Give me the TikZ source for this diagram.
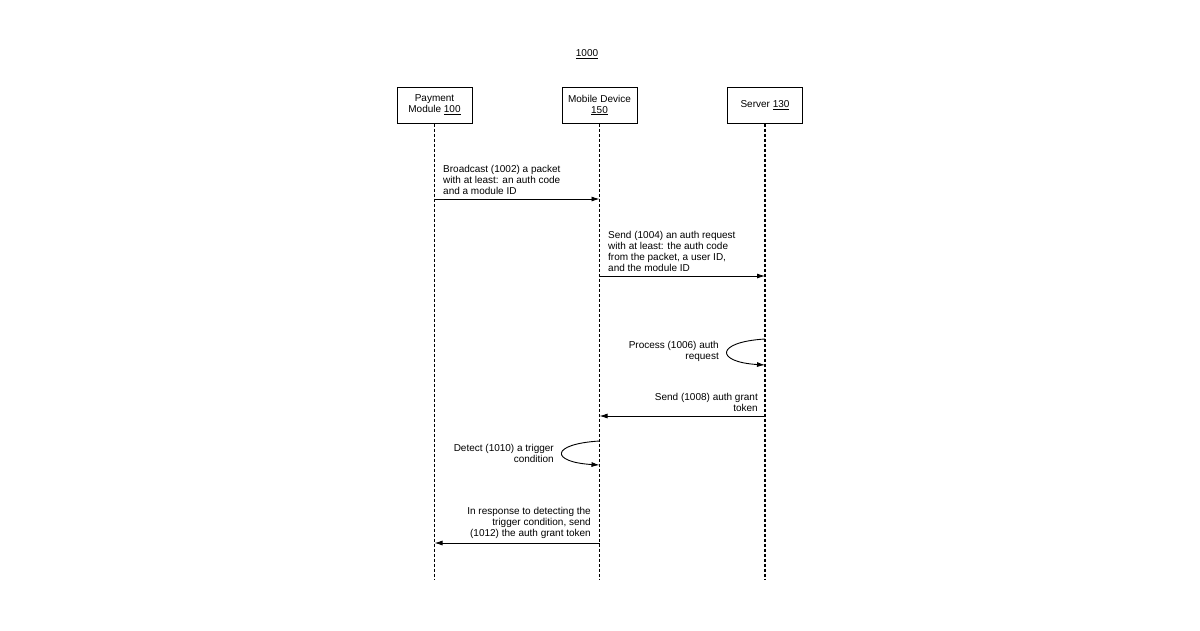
\documentclass[tikz,border=0pt]{standalone}
\usepackage{fontspec}
\setmainfont{Liberation Sans}
\usetikzlibrary{arrows.meta}
\begin{document}
\begin{tikzpicture}[x=1pt,y=-1pt,
  box/.style={draw,line width=1pt,minimum width=75pt,minimum height=36pt,align=center,font=\fontsize{10}{11}\selectfont,inner sep=1pt},
  life/.style={line width=1.3pt,dash pattern=on 3pt off 2pt},
  msg/.style={line width=0.9pt,-{Latex[length=8pt,width=5pt]}},
  lbl/.style={font=\fontsize{10}{11}\selectfont,inner sep=0pt}]
\useasboundingbox (0,0) rectangle (1200,630);
\node[lbl] (t) at (587,54) {\underline{1000}};
\node[box] (p) at (434.5,105) {Payment\\Module \underline{100}};
\node[box] (m) at (599.5,105) {Mobile Device\\\underline{150}};
\node[box] (s) at (765,105) {Server \underline{130}};
\coordinate (pe) at (434.5,580);
\coordinate (me) at (599.5,580);
\coordinate (se) at (765,580);
\draw[life] (p.south) -- (pe);
\draw[life] (m.south) -- (me);
\draw[life] (s.south) -- (se);
% 1002
\coordinate (a1) at (434.5,199); \coordinate (b1) at (599.5,199);
\draw[msg] (a1) -- (b1);
\node[lbl,align=left,anchor=south west] (l1) at (443,195) {Broadcast (1002) a packet\\with at least: an auth code\\and a module ID};
% 1004
\coordinate (a2) at (599.5,276); \coordinate (b2) at (765,276);
\draw[msg] (a2) -- (b2);
\node[lbl,align=left,anchor=south west] (l2) at (608,272) {Send (1004) an auth request\\with at least: the auth code\\from the packet, a user ID,\\and the module ID};
% 1006
\coordinate (a3) at (765,339); \coordinate (b3) at (765,365);
\draw[msg] (a3) .. controls (715,342) and (715,362) .. (b3);
\node[lbl,align=right,anchor=east] (l3) at (719,351) {Process (1006) auth\\request};
% 1008
\coordinate (a4) at (765,416); \coordinate (b4) at (599.5,416);
\draw[msg] (a4) -- (b4);
\node[lbl,align=right,anchor=south east] (l4) at (758,412) {Send (1008) auth grant\\token};
% 1010
\coordinate (a5) at (599.5,441); \coordinate (b5) at (599.5,465);
\draw[msg] (a5) .. controls (550,444) and (550,462) .. (b5);
\node[lbl,align=right,anchor=east] (l5) at (554,453) {Detect (1010) a trigger\\condition};
% 1012
\coordinate (a6) at (599.5,543); \coordinate (b6) at (434.5,543);
\draw[msg] (a6) -- (b6);
\node[lbl,align=right,anchor=south east] (l6) at (591,539) {In response to detecting the\\trigger condition, send\\(1012) the auth grant token};
\end{tikzpicture}
\end{document}
